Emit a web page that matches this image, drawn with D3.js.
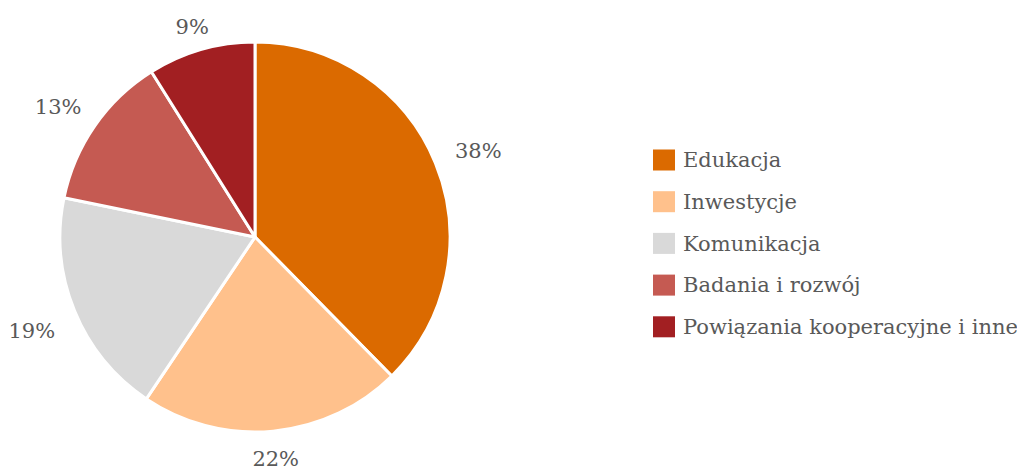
<!DOCTYPE html>
<html>
<head>
<meta charset="utf-8">
<style>
  body { margin: 0; background: #fff; }
  text { font-family: "DejaVu Serif", Georgia, serif; fill: #595959; }
</style>
</head>
<body>
<svg width="1017" height="469"></svg>
<script src="https://cdn.jsdelivr.net/npm/d3@7"></script>
<script>
// data
var categories = ["Edukacja", "Inwestycje", "Komunikacja", "Badania i rozwój", "Powiązania kooperacyjne i inne"];
var values = [38, 22, 19, 13, 9];
var colors = ["#db6a00", "#ffc18c", "#d9d9d9", "#c55a52", "#a21f22"];

var svg = d3.select("svg");
var cx = 255, cy = 237, radius = 195;

var data = categories.map(function (c, i) { return { name: c, value: values[i] }; });

var pie = d3.pie().sort(null).value(function (d) { return d.value; });
var arc = d3.arc().innerRadius(0).outerRadius(radius);
var color = d3.scaleOrdinal().domain(categories).range(colors);

var g = svg.append("g").attr("transform", "translate(" + cx + "," + cy + ")");
var arcs = pie(data);

g.selectAll("path")
  .data(arcs)
  .enter().append("path")
  .attr("d", arc)
  .attr("fill", function (d) { return color(d.data.name); })
  .attr("stroke", "#fff")
  .attr("stroke-width", 3)
  .attr("stroke-linejoin", "round");

// outside-end labels, pushed out by the text box extent
g.selectAll("text.lbl")
  .data(arcs)
  .enter().append("text")
  .attr("class", "lbl")
  .attr("text-anchor", "middle")
  .attr("dy", "0.35em")
  .style("font-size", "21px")
  .attr("transform", function (d) {
    var a = (d.startAngle + d.endAngle) / 2;
    var s = Math.sin(a), c = -Math.cos(a);
    var r = 214 + Math.abs(s) * 27 + Math.abs(c) * 6;
    return "translate(" + (s * r) + "," + (c * r + 4 * (1 - c)) + ")";
  })
  .text(function (d) { return d.data.value + "%"; });

// legend
var legend = svg.append("g").attr("transform", "translate(653,160)");
var row = legend.selectAll("g")
  .data(categories)
  .enter().append("g")
  .attr("transform", function (d, i) { return "translate(0," + (i * 41.7) + ")"; });

row.append("rect")
  .attr("x", 0).attr("y", -10.5)
  .attr("width", 22).attr("height", 21)
  .attr("fill", function (d) { return color(d); });

row.append("text")
  .attr("x", 30)
  .attr("dy", "0.35em")
  .style("font-size", "21px")
  .text(function (d) { return d; });
</script>
</body>
</html>
